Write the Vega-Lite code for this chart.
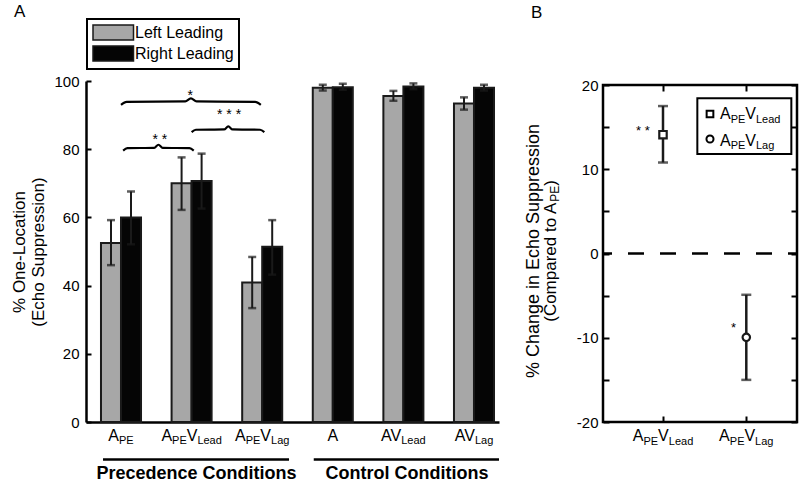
{
  "$schema": "https://vega.github.io/schema/vega-lite/v6.json",
  "padding": {"left": 10, "top": 2, "right": 7, "bottom": 0},
  "background": "white",
  "config": {
    "font": "Liberation Sans",
    "view": {"stroke": null},
    "axis": {"grid": false, "labelColor": "black", "tickColor": "black", "domainColor": "black", "titleColor": "black", "labelFont": "Liberation Sans", "titleFont": "Liberation Sans"},
    "title": {"color": "black", "font": "Liberation Sans"},
    "text": {"font": "Liberation Sans", "fontSize": 16, "baseline": "alphabetic", "align": "left", "color": "black"}
  },
  "datasets": {
    "bars": [
      {"cond": "APE", "lead": "Left Leading", "pct": 52.5, "lo": 46.0, "hi": 59.2},
      {"cond": "APE", "lead": "Right Leading", "pct": 60.0, "lo": 52.1, "hi": 67.6},
      {"cond": "APEVLead", "lead": "Left Leading", "pct": 70.0, "lo": 62.2, "hi": 77.6},
      {"cond": "APEVLead", "lead": "Right Leading", "pct": 70.7, "lo": 62.6, "hi": 78.7},
      {"cond": "APEVLag", "lead": "Left Leading", "pct": 40.9, "lo": 33.4, "hi": 48.4},
      {"cond": "APEVLag", "lead": "Right Leading", "pct": 51.4, "lo": 43.2, "hi": 59.2},
      {"cond": "A", "lead": "Left Leading", "pct": 98.0, "lo": 97.2, "hi": 98.9},
      {"cond": "A", "lead": "Right Leading", "pct": 98.2, "lo": 97.4, "hi": 99.2},
      {"cond": "AVLead", "lead": "Left Leading", "pct": 95.6, "lo": 94.2, "hi": 97.1},
      {"cond": "AVLead", "lead": "Right Leading", "pct": 98.4, "lo": 97.6, "hi": 99.3},
      {"cond": "AVLag", "lead": "Left Leading", "pct": 93.4, "lo": 91.6, "hi": 95.2},
      {"cond": "AVLag", "lead": "Right Leading", "pct": 98.0, "lo": 97.2, "hi": 98.9}
    ],
    "effect": [
      {"cond": "APEVLead", "chg": 14.1, "lo": 10.8, "hi": 17.5},
      {"cond": "APEVLag", "chg": -9.95, "lo": -15.0, "hi": -4.9}
    ],
    "braces": [
      {"b": "all", "x": 1.00, "y": 93.0}, {"b": "all", "x": 1.08, "y": 93.9}, {"b": "all", "x": 1.91, "y": 94.0}, {"b": "all", "x": 1.99, "y": 94.9}, {"b": "all", "x": 2.07, "y": 94.0}, {"b": "all", "x": 2.90, "y": 93.9}, {"b": "all", "x": 2.98, "y": 93.0},
      {"b": "lead", "x": 1.03, "y": 79.6}, {"b": "lead", "x": 1.09, "y": 80.3}, {"b": "lead", "x": 1.47, "y": 80.4}, {"b": "lead", "x": 1.53, "y": 81.3}, {"b": "lead", "x": 1.59, "y": 80.4}, {"b": "lead", "x": 1.97, "y": 80.3}, {"b": "lead", "x": 2.03, "y": 79.6},
      {"b": "lag", "x": 2.00, "y": 85.0}, {"b": "lag", "x": 2.06, "y": 85.7}, {"b": "lag", "x": 2.46, "y": 85.8}, {"b": "lag", "x": 2.52, "y": 86.7}, {"b": "lag", "x": 2.58, "y": 85.8}, {"b": "lag", "x": 2.97, "y": 85.7}, {"b": "lag", "x": 3.03, "y": 85.0}
    ]
  },
  "hconcat": [
    {
      "width": 413,
      "height": 341,
      "title": {"text": "A", "anchor": "start", "frame": "group", "dx": -72, "offset": -16, "baseline": "alphabetic", "fontSize": 17, "fontWeight": "normal"},
      "layer": [
        {
          "layer": [
            {
              "data": {"name": "bars"},
              "mark": {"type": "bar", "stroke": "#1a1a1a", "strokeWidth": 2},
              "encoding": {
                "x": {"field": "cond", "type": "nominal", "scale": {"domain": ["APE", "APEVLead", "APEVLag", "A", "AVLead", "AVLag"], "paddingInner": 0.433, "paddingOuter": 0.1415, "align": 0.75, "round": false}, "axis": {"labels": false, "ticks": false, "title": null, "domainWidth": 2.5}},
                "xOffset": {"field": "lead", "type": "nominal", "scale": {"domain": ["Left Leading", "Right Leading"], "paddingInner": 0, "paddingOuter": 0}},
                "y": {"field": "pct", "type": "quantitative", "scale": {"domain": [0, 100], "nice": false}, "axis": {"values": [0, 10, 20, 30, 40, 50, 60, 70, 80, 90, 100], "labelExpr": "datum.value % 20 === 0 ? datum.label : ''", "tickSize": -5, "tickWidth": 2, "labelPadding": 12, "labelFontSize": 15, "domainWidth": 2.5, "title": ["% One-Location", "(Echo Suppression)"], "titleFontSize": 17, "titleFontWeight": "normal", "titlePadding": 6, "titleLineHeight": 19}},
                "fill": {"field": "lead", "type": "nominal", "scale": {"domain": ["Left Leading", "Right Leading"], "range": ["#a7a7a7", "#050505"]}, "legend": {"orient": "none", "legendX": 1, "legendY": -62, "title": null, "strokeColor": "black", "padding": 5, "symbolType": "M-1,-1H4.4V1H-1Z", "symbolSize": 225, "symbolStrokeColor": "#1a1a1a", "symbolStrokeWidth": 1.5, "symbolOpacity": 1, "labelFontSize": 16, "labelOffset": 26, "rowPadding": 0, "labelColor": "black", "fillColor": "white", "labelLimit": 300, "encode": {"legend": {"update": {"strokeWidth": {"value": 2}}}}}}
              }
            },
            {
              "data": {"name": "bars"},
              "mark": {"type": "rule", "color": "#1a1a1a", "strokeWidth": 2},
              "encoding": {"x": {"field": "cond", "type": "nominal"}, "xOffset": {"field": "lead", "type": "nominal"}, "y": {"field": "lo", "type": "quantitative"}, "y2": {"field": "hi"}}
            },
            {
              "data": {"name": "bars"},
              "mark": {"type": "tick", "color": "#1a1a1a", "size": 8, "thickness": 2.5},
              "encoding": {"x": {"field": "cond", "type": "nominal"}, "xOffset": {"field": "lead", "type": "nominal"}, "y": {"field": "lo", "type": "quantitative"}}
            },
            {
              "data": {"name": "bars"},
              "mark": {"type": "tick", "color": "#1a1a1a", "size": 8, "thickness": 2.5},
              "encoding": {"x": {"field": "cond", "type": "nominal"}, "xOffset": {"field": "lead", "type": "nominal"}, "y": {"field": "hi", "type": "quantitative"}}
            },
            {"data": {"values": [{}]}, "mark": {"type": "text", "text": "A", "dx": -12.67}, "encoding": {"x": {"datum": "APE"}, "y": {"datum": -5.48}}},
            {"data": {"values": [{}]}, "mark": {"type": "text", "text": "PE", "dx": -2.0, "dy": 3.5, "fontSize": 11}, "encoding": {"x": {"datum": "APE"}, "y": {"datum": -5.48}}},
            {"data": {"values": [{}]}, "mark": {"type": "text", "text": "A", "dx": -30.2}, "encoding": {"x": {"datum": "APEVLead"}, "y": {"datum": -5.48}}},
            {"data": {"values": [{}]}, "mark": {"type": "text", "text": "PE", "dx": -19.55, "dy": 3.5, "fontSize": 11}, "encoding": {"x": {"datum": "APEVLead"}, "y": {"datum": -5.48}}},
            {"data": {"values": [{}]}, "mark": {"type": "text", "text": "V", "dx": -4.88}, "encoding": {"x": {"datum": "APEVLead"}, "y": {"datum": -5.48}}},
            {"data": {"values": [{}]}, "mark": {"type": "text", "text": "Lead", "dx": 5.79, "dy": 3.5, "fontSize": 11}, "encoding": {"x": {"datum": "APEVLead"}, "y": {"datum": -5.48}}},
            {"data": {"values": [{}]}, "mark": {"type": "text", "text": "A", "dx": -27.2}, "encoding": {"x": {"datum": "APEVLag"}, "y": {"datum": -5.48}}},
            {"data": {"values": [{}]}, "mark": {"type": "text", "text": "PE", "dx": -16.5, "dy": 3.5, "fontSize": 11}, "encoding": {"x": {"datum": "APEVLag"}, "y": {"datum": -5.48}}},
            {"data": {"values": [{}]}, "mark": {"type": "text", "text": "V", "dx": -1.85}, "encoding": {"x": {"datum": "APEVLag"}, "y": {"datum": -5.48}}},
            {"data": {"values": [{}]}, "mark": {"type": "text", "text": "Lag", "dx": 8.82, "dy": 3.5, "fontSize": 11}, "encoding": {"x": {"datum": "APEVLag"}, "y": {"datum": -5.48}}},
            {"data": {"values": [{}]}, "mark": {"type": "text", "text": "A", "align": "center"}, "encoding": {"x": {"datum": "A"}, "y": {"datum": -5.48}}},
            {"data": {"values": [{}]}, "mark": {"type": "text", "text": "AV", "dx": -22.3}, "encoding": {"x": {"datum": "AVLead"}, "y": {"datum": -5.48}}},
            {"data": {"values": [{}]}, "mark": {"type": "text", "text": "Lead", "dx": -2.2, "dy": 3.5, "fontSize": 11}, "encoding": {"x": {"datum": "AVLead"}, "y": {"datum": -5.48}}},
            {"data": {"values": [{}]}, "mark": {"type": "text", "text": "AV", "dx": -19.2}, "encoding": {"x": {"datum": "AVLag"}, "y": {"datum": -5.48}}},
            {"data": {"values": [{}]}, "mark": {"type": "text", "text": "Lag", "dx": 0.9, "dy": 3.5, "fontSize": 11}, "encoding": {"x": {"datum": "AVLag"}, "y": {"datum": -5.48}}}
          ]
        },
        {
          "layer": [
            {
              "data": {"name": "braces"},
              "mark": {"type": "line", "color": "black", "strokeWidth": 2.2, "interpolate": "monotone"},
              "encoding": {
                "x": {"field": "x", "type": "quantitative", "scale": {"domain": [0.504, 6.354], "nice": false, "zero": false}, "axis": null},
                "y": {"field": "y", "type": "quantitative"},
                "detail": {"field": "b"}
              }
            },
            {"data": {"values": [{}]}, "mark": {"type": "text", "text": "*", "align": "center", "fontSize": 14}, "encoding": {"x": {"datum": 1.98}, "y": {"datum": 94.3}}},
            {"data": {"values": [{}]}, "mark": {"type": "text", "text": "* * *", "align": "center", "fontSize": 14}, "encoding": {"x": {"datum": 2.53}, "y": {"datum": 89.0}}},
            {"data": {"values": [{}]}, "mark": {"type": "text", "text": "* *", "align": "center", "fontSize": 14}, "encoding": {"x": {"datum": 1.55}, "y": {"datum": 81.4}}},
            {"data": {"values": [{}]}, "mark": {"type": "rule", "color": "black", "strokeWidth": 2.5}, "encoding": {"x": {"datum": 0.745}, "x2": {"datum": 3.38}, "y": {"datum": -11.0}}},
            {"data": {"values": [{}]}, "mark": {"type": "rule", "color": "black", "strokeWidth": 2.5}, "encoding": {"x": {"datum": 3.73}, "x2": {"datum": 6.354}, "y": {"datum": -11.0}}},
            {"data": {"values": [{}]}, "mark": {"type": "text", "text": "Precedence Conditions", "align": "center", "fontSize": 18, "fontWeight": "bold"}, "encoding": {"x": {"datum": 2.07}, "y": {"datum": -16.6}}},
            {"data": {"values": [{}]}, "mark": {"type": "text", "text": "Control Conditions", "align": "center", "fontSize": 18, "fontWeight": "bold"}, "encoding": {"x": {"datum": 5.05}, "y": {"datum": -16.6}}}
          ]
        }
      ],
      "resolve": {"scale": {"x": "independent"}}
    },
    {
      "vconcat": [
        {"width": 194, "height": 4, "data": {"values": [{}]}, "mark": {"type": "point", "opacity": 0}, "encoding": {}},
        {
          "width": 194,
          "height": 337,
          "view": {"stroke": "black", "strokeWidth": 2.5},
          "title": {"text": "B", "anchor": "start", "frame": "group", "dx": -72, "offset": 43, "baseline": "alphabetic", "fontSize": 17, "fontWeight": "normal"},
          "layer": [
            {
              "layer": [
                {
                  "data": {"values": [{}]},
                  "mark": {"type": "rule", "color": "black", "strokeWidth": 2.5, "strokeDash": [16, 16], "strokeDashOffset": 7},
                  "encoding": {"y": {"datum": 0, "type": "quantitative", "scale": {"domain": [-20, 20], "nice": false, "zero": false}, "axis": {"values": [-20, -15, -10, -5, 0, 5, 10, 15, 20], "labelExpr": "datum.value % 10 === 0 ? '' + datum.value : ''", "tickSize": -6, "tickWidth": 2, "labelPadding": 11, "labelFontSize": 15, "domain": false, "title": null}}}
                },
                {
                  "data": {"name": "effect"},
                  "mark": {"type": "rule", "color": "#1a1a1a", "strokeWidth": 2.5},
                  "encoding": {
                    "x": {"field": "cond", "type": "nominal", "scale": {"type": "point", "domain": ["APEVLead", "APEVLag"], "range": [60, 143.3], "padding": 0}, "axis": {"labels": false, "domain": false, "tickSize": -6, "tickWidth": 2, "title": null}},
                    "y": {"field": "lo", "type": "quantitative"},
                    "y2": {"field": "hi"}
                  }
                },
                {
                  "data": {"name": "effect"},
                  "mark": {"type": "tick", "color": "#1a1a1a", "size": 10, "thickness": 2.5},
                  "encoding": {"x": {"field": "cond", "type": "nominal"}, "y": {"field": "lo", "type": "quantitative"}}
                },
                {
                  "data": {"name": "effect"},
                  "mark": {"type": "tick", "color": "#1a1a1a", "size": 10, "thickness": 2.5},
                  "encoding": {"x": {"field": "cond", "type": "nominal"}, "y": {"field": "hi", "type": "quantitative"}}
                },
                {
                  "data": {"name": "effect"},
                  "mark": {"type": "point", "filled": true, "fill": "white", "stroke": "#1a1a1a", "strokeWidth": 2.2, "size": 55, "opacity": 1},
                  "encoding": {"x": {"field": "cond", "type": "nominal"}, "y": {"field": "chg", "type": "quantitative"}, "shape": {"field": "cond", "type": "nominal", "scale": {"domain": ["APEVLead", "APEVLag"], "range": ["square", "circle"]}, "legend": null}}
                },
                {"data": {"values": [{}]}, "mark": {"type": "text", "text": "A", "dx": -30.2}, "encoding": {"x": {"datum": "APEVLead"}, "y": {"datum": -22.26}}},
                {"data": {"values": [{}]}, "mark": {"type": "text", "text": "PE", "dx": -19.55, "dy": 3.5, "fontSize": 11}, "encoding": {"x": {"datum": "APEVLead"}, "y": {"datum": -22.26}}},
                {"data": {"values": [{}]}, "mark": {"type": "text", "text": "V", "dx": -4.88}, "encoding": {"x": {"datum": "APEVLead"}, "y": {"datum": -22.26}}},
                {"data": {"values": [{}]}, "mark": {"type": "text", "text": "Lead", "dx": 5.79, "dy": 3.5, "fontSize": 11}, "encoding": {"x": {"datum": "APEVLead"}, "y": {"datum": -22.26}}},
                {"data": {"values": [{}]}, "mark": {"type": "text", "text": "A", "dx": -27.2}, "encoding": {"x": {"datum": "APEVLag"}, "y": {"datum": -22.26}}},
                {"data": {"values": [{}]}, "mark": {"type": "text", "text": "PE", "dx": -16.5, "dy": 3.5, "fontSize": 11}, "encoding": {"x": {"datum": "APEVLag"}, "y": {"datum": -22.26}}},
                {"data": {"values": [{}]}, "mark": {"type": "text", "text": "V", "dx": -1.85}, "encoding": {"x": {"datum": "APEVLag"}, "y": {"datum": -22.26}}},
                {"data": {"values": [{}]}, "mark": {"type": "text", "text": "Lag", "dx": 8.82, "dy": 3.5, "fontSize": 11}, "encoding": {"x": {"datum": "APEVLag"}, "y": {"datum": -22.26}}}
              ]
            },
            {
              "layer": [
                {
                  "data": {"values": [{}]},
                  "mark": {"type": "rect", "fill": "white", "stroke": "black", "strokeWidth": 2},
                  "encoding": {
                    "x": {"datum": 1.413, "type": "quantitative", "scale": {"domain": [0.28, 2.61], "nice": false, "zero": false}, "axis": {"orient": "top", "values": [1, 2], "labels": false, "domain": false, "tickSize": -6, "tickWidth": 2, "title": null}},
                    "x2": {"datum": 2.542},
                    "y": {"datum": 18.42, "type": "quantitative", "scale": {"domain": [-20, 20], "nice": false, "zero": false}, "axis": {"orient": "right", "values": [-20, -15, -10, -5, 0, 5, 10, 15, 20], "labels": false, "domain": false, "tickSize": -6, "tickWidth": 2, "title": null}},
                    "y2": {"datum": 11.81}
                  }
                },
                {"data": {"values": [{}]}, "mark": {"type": "point", "shape": "square", "size": 45, "filled": false, "color": "black", "strokeWidth": 2, "opacity": 1}, "encoding": {"x": {"datum": 1.565}, "y": {"datum": 16.56}}},
                {"data": {"values": [{}]}, "mark": {"type": "point", "shape": "circle", "size": 50, "filled": false, "color": "black", "strokeWidth": 2, "opacity": 1}, "encoding": {"x": {"datum": 1.565}, "y": {"datum": 13.59}}},
                {"data": {"values": [{}]}, "mark": {"type": "text", "text": "A", "dx": 0}, "encoding": {"x": {"datum": 1.685}, "y": {"datum": 15.96}}},
                {"data": {"values": [{}]}, "mark": {"type": "text", "text": "PE", "dx": 10.67, "dy": 3.5, "fontSize": 11}, "encoding": {"x": {"datum": 1.685}, "y": {"datum": 15.96}}},
                {"data": {"values": [{}]}, "mark": {"type": "text", "text": "V", "dx": 25.34}, "encoding": {"x": {"datum": 1.685}, "y": {"datum": 15.96}}},
                {"data": {"values": [{}]}, "mark": {"type": "text", "text": "Lead", "dx": 36.0, "dy": 3.5, "fontSize": 11}, "encoding": {"x": {"datum": 1.685}, "y": {"datum": 15.96}}},
                {"data": {"values": [{}]}, "mark": {"type": "text", "text": "A", "dx": 0}, "encoding": {"x": {"datum": 1.685}, "y": {"datum": 12.8}}},
                {"data": {"values": [{}]}, "mark": {"type": "text", "text": "PE", "dx": 10.67, "dy": 3.5, "fontSize": 11}, "encoding": {"x": {"datum": 1.685}, "y": {"datum": 12.8}}},
                {"data": {"values": [{}]}, "mark": {"type": "text", "text": "V", "dx": 25.34}, "encoding": {"x": {"datum": 1.685}, "y": {"datum": 12.8}}},
                {"data": {"values": [{}]}, "mark": {"type": "text", "text": "Lag", "dx": 36.0, "dy": 3.5, "fontSize": 11}, "encoding": {"x": {"datum": 1.685}, "y": {"datum": 12.8}}},
                {"data": {"values": [{}]}, "mark": {"type": "text", "text": "* *", "align": "center", "fontSize": 13}, "encoding": {"x": {"datum": 0.76}, "y": {"datum": 14.07}}},
                {"data": {"values": [{}]}, "mark": {"type": "text", "text": "*", "align": "center", "fontSize": 13}, "encoding": {"x": {"datum": 1.847}, "y": {"datum": -9.26}}},
                {"data": {"values": [{}]}, "mark": {"type": "text", "text": "% Change in Echo Suppression", "align": "center", "angle": 270, "fontSize": 18}, "encoding": {"x": {"datum": -0.485}, "y": {"datum": 0.3}}},
                {"data": {"values": [{}]}, "mark": {"type": "text", "text": "(Compared to A", "angle": 270, "fontSize": 17, "dx": -70.8}, "encoding": {"x": {"datum": -0.285}, "y": {"datum": 0.3}}},
                {"data": {"values": [{}]}, "mark": {"type": "text", "text": "PE", "angle": 270, "fontSize": 12, "dx": 49.2, "dy": 3.5}, "encoding": {"x": {"datum": -0.285}, "y": {"datum": 0.3}}},
                {"data": {"values": [{}]}, "mark": {"type": "text", "text": ")", "angle": 270, "fontSize": 17, "dx": 65.2}, "encoding": {"x": {"datum": -0.285}, "y": {"datum": 0.3}}}
              ]
            }
          ],
          "resolve": {"scale": {"x": "independent", "y": "independent"}}
        }
      ],
      "spacing": 0,
      "bounds": "flush"
    }
  ],
  "spacing": 104,
  "bounds": "flush",
  "resolve": {"scale": {"fill": "independent", "shape": "independent"}, "legend": {"fill": "independent"}}
}
